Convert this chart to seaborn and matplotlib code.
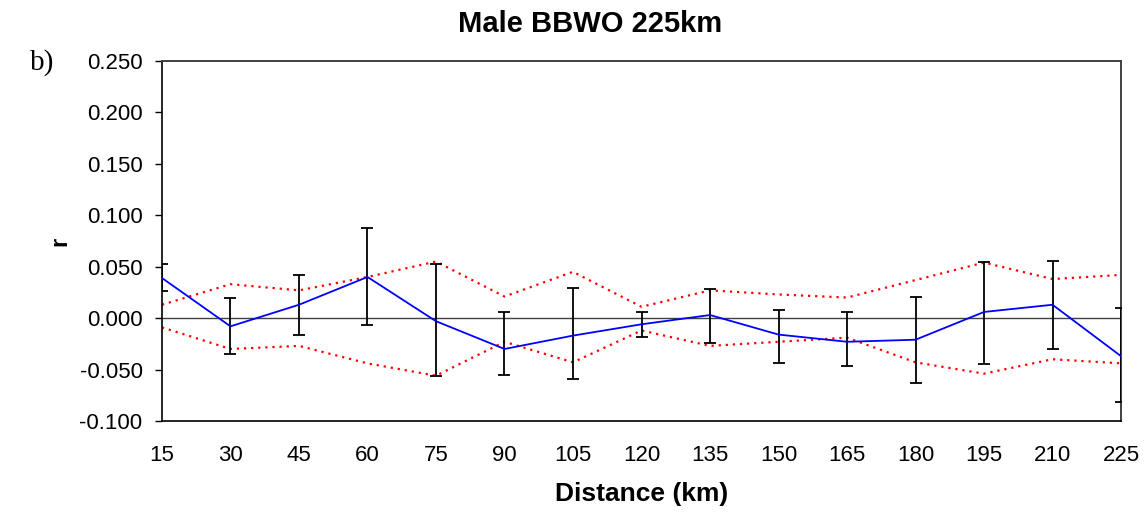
import numpy as np
import pandas as pd
import matplotlib
matplotlib.use("Agg")
import matplotlib.pyplot as plt
import seaborn as sns

# Distance classes (km)
distance = ["15", "30", "45", "60", "75", "90", "105", "120", "135", "150",
            "165", "180", "195", "210", "225"]

# Autocorrelation coefficient r per distance class
r_obs = [0.039, -0.008, 0.013, 0.040, -0.003, -0.030, -0.017, -0.006, 0.003, -0.016,
         -0.023, -0.021, 0.006, 0.013, -0.037]

# Bootstrap error-bar limits
err_upper = [0.053, 0.020, 0.042, 0.088, 0.053, 0.006, 0.029, 0.006, 0.028, 0.008,
             0.006, 0.021, 0.055, 0.056, 0.010]
err_lower = [0.026, -0.035, -0.016, -0.007, -0.056, -0.055, -0.059, -0.018, -0.024, -0.044,
             -0.047, -0.063, -0.045, -0.030, -0.082]

# Permutation 95% confidence envelope
ci_upper = [0.013, 0.033, 0.027, 0.040, 0.055, 0.021, 0.045, 0.011, 0.027, 0.023,
            0.020, 0.037, 0.054, 0.038, 0.042]
ci_lower = [-0.009, -0.030, -0.027, -0.044, -0.056, -0.023, -0.043, -0.012, -0.027, -0.023,
            -0.019, -0.043, -0.054, -0.040, -0.044]

y_ticks = [-0.100, -0.050, 0.000, 0.050, 0.100, 0.150, 0.200, 0.250]

sns.set_theme(style="white")
plt.rcParams["font.family"] = ["Liberation Sans", "DejaVu Sans"]
plt.rcParams["text.color"] = "black"
plt.rcParams["axes.labelcolor"] = "black"
plt.rcParams["xtick.color"] = "black"
plt.rcParams["ytick.color"] = "black"

df = pd.DataFrame({
    "pos": np.arange(len(distance)),
    "r": r_obs,
    "hi": ci_upper,
    "lo": ci_lower,
})

fig = plt.figure(figsize=(11.48, 5.14), dpi=100)
ax = fig.add_axes([0.1411, 0.181, 0.8354, 0.7003])

ax.axhline(0, color="#404040", lw=1.0, zorder=1)

sns.lineplot(data=df, x="pos", y="hi", ax=ax, color="#ff0000", lw=1.6,
             linestyle=(0, (1, 2.2)), zorder=2)
sns.lineplot(data=df, x="pos", y="lo", ax=ax, color="#ff0000", lw=1.6,
             linestyle=(0, (1, 2.2)), zorder=2)

r_arr = np.array(r_obs)
yerr = [r_arr - np.array(err_lower), np.array(err_upper) - r_arr]
ax.errorbar(df["pos"], r_arr, yerr=yerr, fmt="none", ecolor="black",
            elinewidth=1.3, capsize=4.5, capthick=1.3, zorder=3)

sns.lineplot(data=df, x="pos", y="r", ax=ax, color="#0000ff", lw=1.3, zorder=4)

ax.set_xlim(0, len(distance) - 1)
ax.set_ylim(-0.100, 0.250)
ax.set_xticks(df["pos"])
ax.set_xticklabels(distance, fontsize=16)
ax.set_yticks(y_ticks)
ax.set_yticklabels([f"{v:.3f}" for v in y_ticks], fontsize=16)
ax.tick_params(axis="y", direction="out", length=5, width=1, color="black", left=True, pad=9)
ax.tick_params(axis="x", length=0, pad=17)

for side in ["left", "bottom"]:
    ax.spines[side].set_color("black")
    ax.spines[side].set_linewidth(1.2)
for side in ["top", "right"]:
    ax.spines[side].set_color("#404040")
    ax.spines[side].set_linewidth(1.4)

ax.set_xlabel("Distance (km)", fontsize=19, fontweight="bold", labelpad=12)
ax.set_ylabel("r", fontsize=17, fontweight="bold", labelpad=6)
ax.set_title("Male BBWO 225km", fontsize=21, fontweight="bold", pad=21, x=0.446)

fig.text(0.026, 0.865, "b)", fontsize=21, family=["Liberation Serif", "DejaVu Serif"])

fig.savefig("out.png", dpi=100)
